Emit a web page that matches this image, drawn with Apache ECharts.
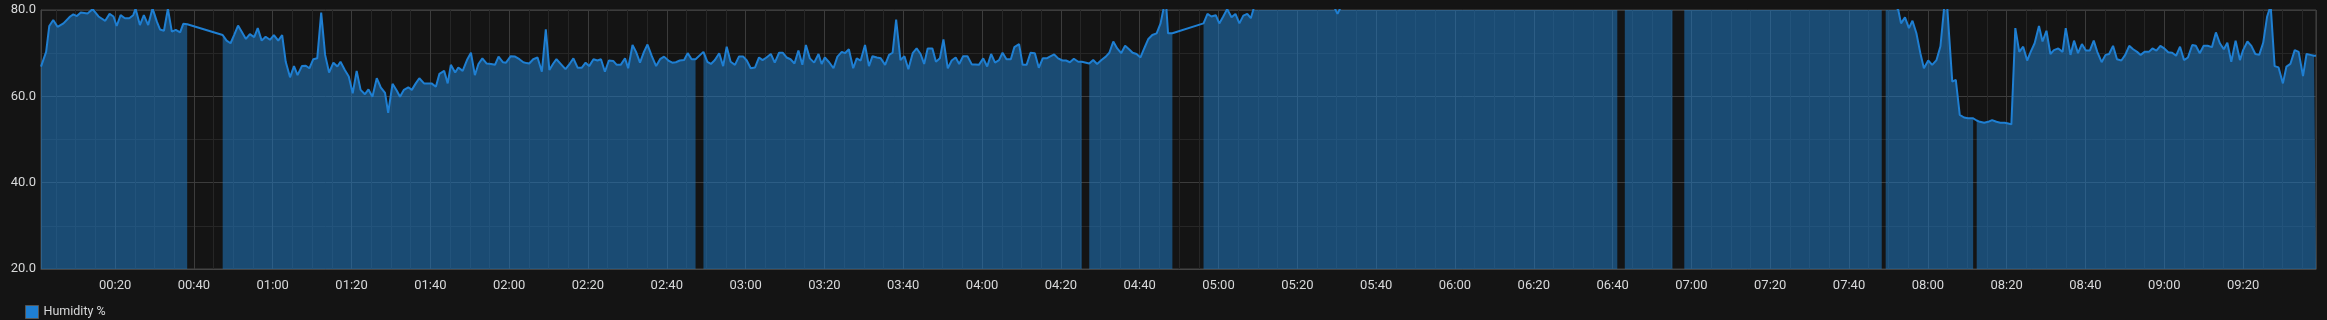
<!DOCTYPE html>
<html>
<head>
<meta charset="utf-8">
<script src="https://cdn.jsdelivr.net/npm/echarts@6/dist/echarts.min.js"></script>
<style>
  html, body { margin: 0; padding: 0; background: #141414; }
  #chart { width: 2327px; height: 320px; }
</style>
</head>
<body>
<div id="chart"></div>
<script>
// Time in minutes after 00:00, humidity in %. Each segment is a run of samples
// without missing data; the fill breaks between segments, the line connects them.
const seg1 = [[1.2,66.9],[2.5,70.3],[3.3,76.3],[4.3,77.7],[5.4,76.1],[6.9,76.9],[8.6,78.5],[9.4,79.0],[10.3,78.6],[11.3,79.4],[13.0,79.2],[14.3,80.2],[15.8,78.5],[17.5,77.5],[18.6,79.1],[19.6,78.5],[20.4,76.3],[21.4,78.8],[22.5,78.1],[23.6,78.1],[24.6,78.8],[25.2,80.3],[26.3,76.5],[27.3,78.8],[28.4,76.5],[29.5,80.4],[30.6,77.3],[31.4,75.5],[32.4,75.2],[33.4,80.3],[34.4,75.0],[35.4,75.4],[36.5,74.8],[37.3,76.8],[38.3,76.7]];
const seg2 = [[47.3,74.2],[48.3,72.9],[49.3,72.3],[50.2,74.2],[51.2,76.4],[52.1,75.0],[53.2,73.3],[54.2,74.4],[55.3,73.7],[56.2,75.8],[57.2,72.9],[58.2,73.8],[59.3,73.1],[60.3,74.2],[61.4,72.9],[62.4,74.2],[63.3,68.0],[64.4,64.4],[65.4,67.0],[66.3,64.9],[67.4,67.0],[68.4,67.1],[69.3,66.5],[70.3,68.6],[71.3,68.8],[72.3,79.4],[73.3,69.6],[74.3,65.5],[75.4,67.8],[76.4,66.9],[77.2,68.0],[78.3,66.1],[79.3,64.6],[80.3,60.7],[81.3,65.9],[82.3,61.5],[83.4,60.5],[84.3,61.6],[85.3,59.9],[86.4,64.2],[87.4,62.1],[88.5,60.8],[89.3,56.2],[90.4,62.9],[91.5,61.3],[92.3,59.9],[93.3,61.5],[94.4,62.1],[95.3,61.5],[96.3,63.0],[97.2,64.2],[98.4,63.0],[99.4,63.0],[100.3,63.0],[101.4,62.2],[102.3,65.2],[103.5,65.9],[104.4,63.0],[105.2,67.3],[106.3,65.5],[107.1,66.7],[108.2,65.9],[109.4,68.6],[110.3,70.1],[111.3,64.9],[112.2,67.5],[113.2,68.8],[114.3,67.6],[115.4,67.5],[116.4,67.3],[117.3,69.2],[118.4,67.9],[119.2,67.8],[120.4,69.3],[121.5,69.2],[122.6,68.6],[123.6,67.9],[124.4,67.7],[125.1,67.6],[126.1,68.6],[127.2,69.0],[128.3,65.7],[129.3,75.5],[130.2,66.1],[131.2,67.6],[132.0,68.6],[133.3,67.3],[134.3,66.3],[135.4,67.6],[136.3,68.8],[137.4,66.6],[138.4,66.6],[139.4,67.8],[140.3,67.0],[141.4,68.6],[142.4,68.3],[143.3,68.6],[144.3,65.7],[145.3,68.3],[146.4,68.2],[147.3,67.3],[148.3,67.3],[149.4,68.8],[150.2,66.5],[151.3,71.9],[152.2,70.3],[153.2,67.8],[154.2,70.3],[155.1,72.0],[156.2,69.3],[157.3,67.0],[158.3,68.6],[159.3,69.2],[160.4,68.3],[161.4,67.8],[162.3,67.9],[163.3,68.3],[164.4,68.4],[165.3,70.0],[166.3,68.6],[167.3,68.6]];
const seg3 = [[169.3,70.3],[170.3,68.0],[171.2,67.5],[172.2,68.4],[173.3,70.0],[174.3,67.0],[175.2,71.5],[176.2,68.0],[177.3,67.3],[178.3,69.2],[179.4,69.2],[180.3,68.3],[181.3,66.5],[182.4,66.7],[183.4,69.0],[184.3,68.4],[185.3,69.0],[186.4,69.8],[187.4,67.8],[188.5,70.1],[189.4,70.1],[190.4,69.0],[191.4,68.6],[192.4,67.6],[193.4,70.6],[194.4,67.3],[195.3,71.9],[196.3,68.8],[197.4,67.8],[198.5,69.8],[199.3,67.5],[200.1,69.0],[201.2,67.9],[202.3,66.5],[203.3,69.2],[204.4,70.3],[205.2,70.0],[206.2,70.9],[207.3,66.5],[208.2,68.8],[209.2,68.3],[210.3,71.9],[211.3,67.0],[212.2,69.3],[213.3,69.0],[214.3,68.8],[215.4,67.3],[216.4,69.6],[217.3,70.1],[218.2,77.8],[219.3,68.4],[220.3,69.3],[221.3,66.3],[222.4,70.0],[223.4,71.1],[224.4,69.8],[225.3,67.5],[226.2,71.1],[227.4,71.1],[228.3,68.0],[229.3,68.8],[230.2,73.2],[231.3,66.5],[232.3,68.3],[233.3,69.0],[234.2,67.5],[235.2,69.3],[236.3,69.3],[237.4,67.4],[238.3,67.4],[239.2,67.3],[240.3,68.8],[241.3,66.9],[242.3,69.8],[243.3,67.8],[244.3,68.4],[245.2,70.1],[246.2,68.6],[247.3,68.6],[248.2,71.4],[249.4,72.1],[250.3,67.3],[251.3,67.3],[252.3,70.1],[253.4,70.0],[254.4,66.6],[255.4,68.8],[256.4,68.8],[257.2,69.2],[258.3,69.7],[259.3,68.8],[260.4,68.3],[261.3,68.3],[262.3,67.9],[263.3,68.7],[264.4,68.0],[265.3,68.0]];
const seg4 = [[267.2,67.6],[268.2,68.4],[269.2,67.5],[270.3,68.4],[271.4,69.2],[272.3,70.1],[273.3,72.7],[274.3,71.1],[275.3,70.0],[276.3,71.7],[277.3,70.9],[278.2,70.1],[279.2,69.8],[280.2,69.0],[281.2,71.2],[282.2,73.3],[283.2,74.2],[284.3,74.6],[285.3,76.9],[286.1,80.5],[286.7,81.5],[287.2,74.6],[288.3,74.6]];
const seg5 = [[296.2,76.9],[297.2,79.1],[298.2,78.5],[299.3,78.8],[300.2,76.9],[301.2,78.5],[302.2,80.2],[303.3,78.3],[304.3,79.1],[305.3,76.9],[306.3,78.7],[307.3,79.1],[308.2,78.1],[309.2,81.2],[310.2,82.4],[312.3,83.1],[314.2,82.0],[316.3,83.5],[318.2,84.2],[320.3,83.0],[322.2,82.6],[324.3,83.8],[326.2,82.9],[328.3,81.7],[329.4,80.6],[330.2,79.1],[331.1,80.8],[332.3,82.5],[334.2,83.4],[336.3,84.1],[338.2,84.8],[340.3,85.5],[342.2,86.0],[344.3,86.4],[346.2,87.1],[348.3,87.5],[350.2,88.0],[352.3,88.2],[354.2,88.9],[356.3,89.1],[358.2,89.5],[360.3,89.8],[362.2,90.1],[364.3,90.4],[366.2,90.2],[368.3,90.7],[370.2,90.9],[372.3,91.2],[374.2,91.0],[376.3,91.4],[378.2,91.6],[380.3,91.3],[382.2,91.8],[384.3,92.0],[386.2,91.7],[388.3,92.1],[390.2,92.3],[392.3,92.0],[394.2,92.4],[396.3,92.6],[398.2,92.2],[400.3,92.5],[401.2,92.7]];
const seg6 = [[403.1,92.3],[405.2,92.6],[407.3,92.8],[409.2,92.4],[411.3,92.9],[413.2,93.0],[415.2,92.7]];
const seg7 = [[418.2,92.5],[420.3,92.8],[422.2,93.1],[424.3,92.9],[426.2,93.2],[428.3,93.4],[430.2,93.0],[432.3,93.3],[434.2,93.5],[436.3,93.2],[438.2,93.6],[440.3,93.4],[442.2,93.1],[444.3,92.8],[446.2,92.4],[448.3,92.0],[450.2,91.5],[452.3,91.0],[454.2,90.4],[456.3,89.6],[458.2,88.9],[460.3,88.1],[462.2,87.2],[464.3,86.0],[466.2,84.9],[468.3,84.0]];
const seg8 = [[469.3,83.4],[470.3,82.5],[471.4,81.3],[472.5,80.0],[473.2,76.9],[474.2,78.3],[475.2,75.8],[476.1,77.5],[477.1,74.6],[478.1,70.0],[479.0,66.5],[480.1,68.3],[481.1,67.3],[482.2,68.4],[483.2,71.6],[484.6,85.0],[486.2,63.4],[487.1,63.8],[488.1,55.7],[489.2,55.1],[490.2,54.9],[491.5,54.9]];
const seg9 = [[492.4,54.4],[493.2,54.1],[494.3,53.9],[495.3,54.1],[496.3,54.5],[497.4,54.1],[498.4,53.9],[499.5,53.9],[500.4,53.7],[501.2,53.5],[502.2,75.8],[503.2,70.3],[504.2,71.5],[505.2,68.3],[506.1,70.3],[507.1,72.3],[508.2,76.3],[509.1,72.7],[510.1,75.2],[511.1,69.8],[512.0,70.7],[513.1,71.1],[514.2,70.3],[515.0,75.8],[516.2,69.6],[517.1,72.9],[518.1,70.0],[519.1,72.1],[520.1,70.6],[521.1,70.6],[522.1,72.9],[523.0,70.3],[524.1,67.9],[525.1,69.6],[526.0,69.8],[527.0,71.7],[528.0,68.6],[529.1,68.3],[530.1,69.6],[531.1,71.7],[532.1,70.9],[533.1,70.3],[534.0,69.6],[535.0,70.3],[536.1,70.3],[537.0,71.1],[538.0,70.6],[539.0,71.7],[540.0,71.1],[541.0,70.2],[542.0,70.1],[543.0,69.4],[544.0,71.5],[545.0,68.4],[546.0,69.0],[547.1,71.9],[548.0,71.7],[549.0,70.0],[550.0,71.7],[551.0,71.7],[552.1,71.4],[553.1,74.8],[554.1,72.3],[555.1,70.9],[556.0,72.4],[557.0,68.0],[558.1,72.9],[559.2,68.4],[560.0,70.7],[561.1,72.7],[562.1,71.7],[563.1,69.8],[564.1,69.6],[565.1,72.4],[566.1,78.5],[567.0,81.0],[568.0,67.0],[569.0,66.7],[570.1,63.0],[571.0,66.9],[572.0,67.5],[573.1,70.7],[574.1,70.3],[575.2,64.7],[576.1,69.8],[577.1,69.6],[578.0,69.4],[578.5,69.4]];

const segments = [seg1, seg2, seg3, seg4, seg5, seg6, seg7, seg8, seg9];
const seriesName = 'Humidity %';
const xRange = [1.2, 578.5];      // minutes after midnight
const yRange = [20, 80];

// area data: null inserted between segments so the fill breaks
const areaData = [];
const lineData = [];
segments.forEach((seg, i) => {
  if (i > 0) {
    const prev = segments[i - 1];
    areaData.push([(prev[prev.length - 1][0] + seg[0][0]) / 2, null]);
  }
  seg.forEach(p => { areaData.push(p); lineData.push(p); });
});

function fmtTime(m) {
  const r = Math.round(m);
  const h = Math.floor(r / 60), mm = r % 60;
  return String(h).padStart(2, '0') + ':' + String(mm).padStart(2, '0');
}

const BLUE = '#1f7fd2';
const FILL = '#1f78c1';
const TEXT = '#d8d9da';
const FONT = 'Roboto';

const chart = echarts.init(document.getElementById('chart'), null, { renderer: 'canvas' });
chart.setOption({
  backgroundColor: '#141414',
  animation: false,
  textStyle: { fontFamily: FONT },
  grid: {
    left: 41, right: 11, top: 10, bottom: 51,
    show: true, borderColor: '#444', borderWidth: 1, backgroundColor: 'transparent'
  },
  legend: {
    left: 20, top: 300,
    itemWidth: 13, itemHeight: 13,
    data: [{ name: seriesName, icon: 'rect',
             itemStyle: { color: BLUE, borderColor: '#555', borderWidth: 1 } }],
    textStyle: { color: TEXT, fontSize: 12.5, fontFamily: FONT }
  },
  xAxis: {
    type: 'value',
    min: xRange[0], max: xRange[1],
    splitNumber: 29, minInterval: 20, maxInterval: 20,
    axisLine: { show: true, lineStyle: { color: '#444' } },
    axisTick: { show: false },
    axisLabel: {
      color: TEXT, fontSize: 13, fontFamily: FONT, margin: 10,
      showMinLabel: false, showMaxLabel: false,
      formatter: v => fmtTime(v)
    },
    splitLine: { show: true, lineStyle: { color: '#3c3c3c', width: 1 } },
    minorTick: { show: false, splitNumber: 4 },
    minorSplitLine: { show: true, lineStyle: { color: '#262626', width: 1 } }
  },
  yAxis: {
    type: 'value',
    min: yRange[0], max: yRange[1], interval: 20,
    axisLine: { show: true, lineStyle: { color: '#444' } },
    axisTick: { show: false },
    axisLabel: {
      color: TEXT, fontSize: 13, fontFamily: FONT, margin: 5,
      formatter: v => v.toFixed(1)
    },
    splitLine: { show: true, lineStyle: { color: '#3c3c3c', width: 1 } },
    minorTick: { show: false, splitNumber: 2 },
    minorSplitLine: { show: true, lineStyle: { color: '#262626', width: 1 } }
  },
  series: [
    {
      name: seriesName + ' fill',
      type: 'line',
      data: areaData,
      connectNulls: false,
      showSymbol: false,
      symbol: 'none',
      lineStyle: { width: 0, opacity: 0 },
      areaStyle: { color: FILL, opacity: 0.55 },
      silent: true,
      z: 1
    },
    {
      name: seriesName,
      type: 'line',
      data: lineData,
      connectNulls: true,
      showSymbol: false,
      symbol: 'none',
      itemStyle: { color: BLUE },
      lineStyle: { color: BLUE, width: 2 },
      z: 2
    }
  ]
});
</script>
</body>
</html>
